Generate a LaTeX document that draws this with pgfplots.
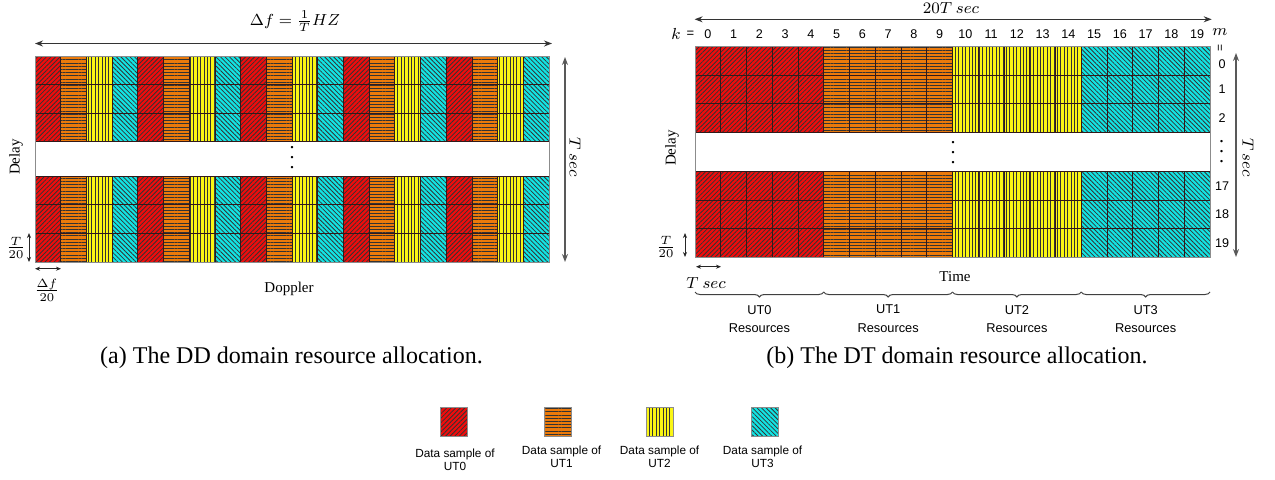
\documentclass[border=0pt]{standalone}
\usepackage{fontspec}
\setmainfont{Liberation Serif}
\newfontfamily\arial{Liberation Sans}
\usepackage{pgfplots}
\pgfplotsset{compat=1.18}
\usetikzlibrary{patterns.meta,arrows.meta,decorations.pathreplacing}

\definecolor{utred}{RGB}{240,12,12}
\definecolor{utorange}{RGB}{236,122,10}
\definecolor{utyellow}{RGB}{250,246,20}
\definecolor{utcyan}{RGB}{18,228,228}
\definecolor{cellline}{RGB}{50,25,25}
\definecolor{framegray}{RGB}{140,140,140}

\newcommand{\fs}[1]{\fontsize{#1}{#1}\selectfont}
\newcommand{\gapdots}{\vbox{\fs{10}\baselineskip=5pt\lineskiplimit=-10pt\hbox{.}\hbox{.}\hbox{.}}}

\pgfplotsset{
  cell/.style={ybar, bar width=1, bar shift=0pt, draw=cellline, line width=0.35pt, pattern color=black!80},
  ut0/.style={cell, preaction={fill=utred},    pattern={Lines[angle=45,distance=1.6pt,line width=0.4pt]}},
  ut1/.style={cell, preaction={fill=utorange}, pattern={Lines[angle=0,distance=1.6pt,line width=0.4pt]}},
  ut2/.style={cell, preaction={fill=utyellow}, pattern={Lines[angle=90,distance=1.7pt,line width=0.4pt]}},
  ut3/.style={cell, preaction={fill=utcyan},   pattern={Lines[angle=-45,distance=1.6pt,line width=0.4pt]}},
  rowline/.style={cellline, line width=0.45pt, no marks},
  grid panel/.style={
    anchor=south west, scale only axis,
    xmin=0, xmax=20, ymin=0,
    axis on top, axis line style={framegray, line width=0.5pt},
  },
}

\tikzset{
  arr/.style={black!80, line width=0.6pt, {Stealth[length=4pt,width=3pt]}-{Stealth[length=4pt,width=3pt]}},
  varr/.style={black!65, line width=0.6pt, {Stealth[length=4pt,width=3pt]}-{Stealth[length=4pt,width=3pt]}},
  smallarr/.style={black!85, line width=0.4pt, {Stealth[length=2.5pt,width=2pt]}-{Stealth[length=2.5pt,width=2pt]}},
}

\begin{document}
\begin{tikzpicture}[x=0.5pt,y=0.5pt]
\path[use as bounding box, fill=white] (0,0) rectangle (1275,479);

% ---------------- (a) delay-Doppler grid: users interleaved over Doppler bins
\begin{axis}[grid panel, at={(17.5pt,108.5pt)}, width=257pt, height=103pt,
  ymax=7.2, xtick=\empty, ytick=\empty]
\addplot[ut0] coordinates {(0.5,7.2) (4.5,7.2) (8.5,7.2) (12.5,7.2) (16.5,7.2)};
\addplot[ut1] coordinates {(1.5,7.2) (5.5,7.2) (9.5,7.2) (13.5,7.2) (17.5,7.2)};
\addplot[ut2] coordinates {(2.5,7.2) (6.5,7.2) (10.5,7.2) (14.5,7.2) (18.5,7.2)};
\addplot[ut3] coordinates {(3.5,7.2) (7.5,7.2) (11.5,7.2) (15.5,7.2) (19.5,7.2)};
% elided middle rows
\addplot[fill=white, draw=none, no marks] coordinates {(0,3) (20,3) (20,4.2) (0,4.2) (0,3)};
\addplot[rowline] coordinates {(0,1) (20,1)};
\addplot[rowline] coordinates {(0,2) (20,2)};
\addplot[rowline] coordinates {(0,3) (20,3)};
\addplot[rowline] coordinates {(0,4.2) (20,4.2)};
\addplot[rowline] coordinates {(0,5.2) (20,5.2)};
\addplot[rowline] coordinates {(0,6.2) (20,6.2)};
\end{axis}

% ---------------- (b) delay-time grid: users in contiguous blocks of 5 slots
\begin{axis}[grid panel, at={(347.5pt,110.85pt)}, width=257.5pt, height=105.3pt,
  ymax=7.4,
  major tick length=0pt,
  xtick={0.5,1.5,2.5,3.5,4.5,5.5,6.5,7.5,8.5,9.5,10.5,11.5,12.5,13.5,14.5,15.5,16.5,17.5,18.5,19.5},
  xticklabels={0,1,2,3,4,5,6,7,8,9,10,11,12,13,14,15,16,17,18,19},
  xticklabel pos=upper,
  xticklabel style={font=\arial\fs{6.3}, anchor=base, yshift=4.3pt},
  ytick={0.5,1.5,2.5,4.9,5.9,6.78},
  yticklabels={19,18,17,2,1,0},
  yticklabel pos=upper,
  yticklabel style={font=\arial\fs{6.3}, anchor=center, xshift=6pt},
]
\addplot[ut0] coordinates {(0.5,7.4) (1.5,7.4) (2.5,7.4) (3.5,7.4) (4.5,7.4)};
\addplot[ut1] coordinates {(5.5,7.4) (6.5,7.4) (7.5,7.4) (8.5,7.4) (9.5,7.4)};
\addplot[ut2] coordinates {(10.5,7.4) (11.5,7.4) (12.5,7.4) (13.5,7.4) (14.5,7.4)};
\addplot[ut3] coordinates {(15.5,7.4) (16.5,7.4) (17.5,7.4) (18.5,7.4) (19.5,7.4)};
\addplot[fill=white, draw=none, no marks] coordinates {(0,3) (20,3) (20,4.4) (0,4.4) (0,3)};
\addplot[rowline] coordinates {(0,1) (20,1)};
\addplot[rowline] coordinates {(0,2) (20,2)};
\addplot[rowline] coordinates {(0,3) (20,3)};
\addplot[rowline] coordinates {(0,4.4) (20,4.4)};
\addplot[rowline] coordinates {(0,5.4) (20,5.4)};
\addplot[rowline] coordinates {(0,6.4) (20,6.4)};
\end{axis}

% ---------------- key
\begin{axis}[anchor=south west, at={(220pt,21.5pt)}, scale only axis,
  width=169.5pt, height=14.5pt, xmin=440, xmax=779, ymin=0, ymax=1,
  axis lines=none, clip=false]
\addplot[ut0, bar width=27, draw=framegray] coordinates {(453.5,1)};
\addplot[ut1, bar width=27, draw=framegray] coordinates {(558,1)};
\addplot[ut2, bar width=27, draw=framegray] coordinates {(660,1)};
\addplot[ut3, bar width=27, draw=framegray] coordinates {(765,1)};
\end{axis}

% ---------------- annotations of panel (a)
\node[font=\fs{8}] at (295,458) {$\Delta f=\frac{1}{T}HZ$};
\draw[arr] (35,435.5) -- (552,435.5);
\node[rotate=90, font=\fs{7.5}] at (16,322) {Delay};
\draw[varr] (565,422) -- (565,217);
\node[rotate=-90, font=\fs{8}] at (575,322) {$T\ sec$};
\node[font=\fs{8.5}] at (16,231.5) {$\frac{T}{20}$};
\draw[smallarr] (29,246) -- (29,217);
\draw[smallarr] (35,210.3) -- (61,210.3);
\node[font=\fs{8.5}] at (47,189) {$\frac{\Delta f}{20}$};
\node[font=\fs{7.5}] at (289,190) {Doppler};
\node[inner sep=0pt] at (292,321) {\gapdots};
\node[font=\fs{12}] at (291.5,121) {(a) The DD domain resource allocation.};

% ---------------- annotations of panel (b)
\node[font=\fs{7.6}] at (951,470.5) {$20T\ sec$};
\draw[arr] (694.6,459.7) -- (1211.7,459.7);
\node[font=\fs{8.5}] at (676,445) {$k$};
\node[font=\arial\fs{6.5}] at (690.5,445) {=};
\node[font=\fs{8.5}] at (1220,447) {$m$};
\node[font=\arial\fs{6}, rotate=90] at (1221,431) {=};
\node[rotate=90, font=\fs{7.5}] at (672,331) {Delay};
\draw[varr] (1236,426) -- (1236,222);
\node[rotate=-90, font=\fs{8}] at (1248,321) {$T\,sec$};
\node[font=\fs{8.5}] at (666,232) {$\frac{T}{20}$};
\draw[smallarr] (685,246) -- (685,222);
\draw[smallarr] (696,212.3) -- (721,212.3);
\node[font=\fs{8}] at (706,196) {$T\ sec$};
\node[font=\fs{7.5}] at (955,202) {Time};
\node[inner sep=0pt] at (953,326) {\gapdots};
\node[inner sep=0pt] at (1221.7,327.3) {\gapdots};
\foreach \a/\b/\u in {695/823.75/0, 823.75/952.5/1, 952.5/1081.25/2, 1081.25/1210/3}{
  \draw[decorate, decoration={brace, mirror, amplitude=2.5pt}, black!75, line width=0.5pt] (\a,187) -- (\b,187);
  \node[font=\arial\fs{6.4}, align=center] at ({(\a+\b)/2},160) {UT\u\\[3pt]Resources};
}
\node[font=\fs{12}] at (957,121) {(b) The DT domain resource allocation.};

% ---------------- key labels
\node[font=\arial\fs{5.9}, align=center] at (455,19.5) {Data sample of\\[0.6pt]UT0};
\node[font=\arial\fs{5.9}, align=center] at (561.6,22) {Data sample of\\[0.6pt]UT1};
\node[font=\arial\fs{5.9}, align=center] at (659.6,22) {Data sample of\\[0.6pt]UT2};
\node[font=\arial\fs{5.9}, align=center] at (762.6,22) {Data sample of\\[0.6pt]UT3};
\end{tikzpicture}
\end{document}
